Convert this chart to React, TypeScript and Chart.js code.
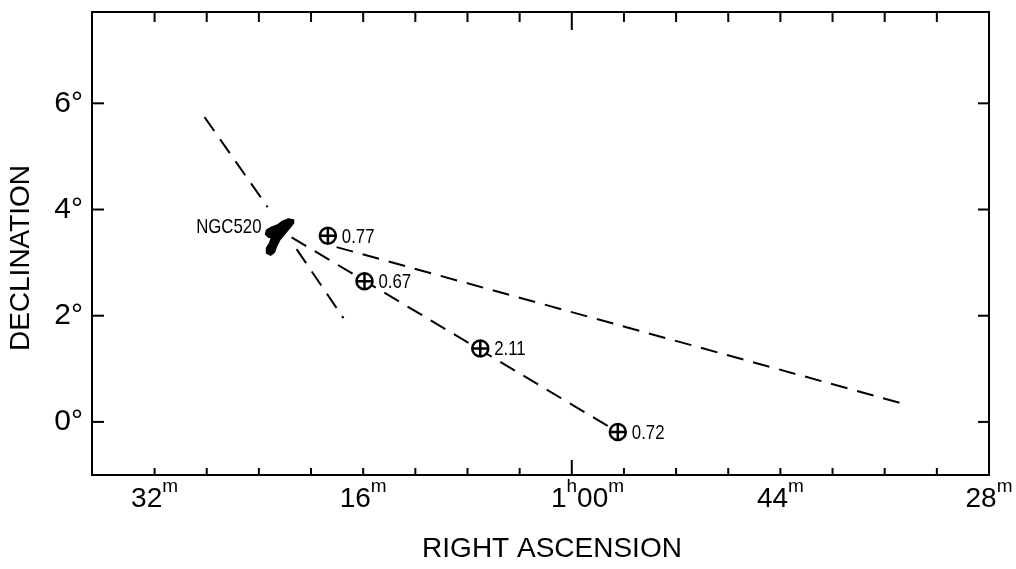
import React, { useEffect, useRef } from "react";
import { Chart, registerables } from "chart.js";

Chart.register(...registerables);

// Right ascension in minutes of time (1h32m = 92), declination in degrees
const xTickValues = [92, 88, 84, 80, 76, 72, 68, 64, 60, 56, 52, 48, 44, 40, 36, 32, 28];
const xLabelValues = [92, 76, 60, 44, 28];
const xLabelHours = ["", "", "1", "", ""];
const xLabelMinutes = ["32", "16", "00", "44", "28"];
const yTickValues = [0, 2, 4, 6];
const yTickLabels = ["0°", "2°", "4°", "6°"];

const sourceRA = [78.71, 75.9, 67.02, 56.47];
const sourceDec = [3.505, 2.65, 1.383, -0.19];
const sourceLabels = ["0.77", "0.67", "2.11", "0.72"];

const line1aRA = [88.17, 83.33];
const line1aDec = [5.74, 4.046];
const line1bRA = [81.11, 77.51];
const line1bDec = [3.254, 1.954];
const line2RA = [81.49, 56.47];
const line2Dec = [3.476, -0.19];
const line3RA = [78.04, 34.25];
const line3Dec = [3.292, 0.32];

const galaxyRA = [81.34, 81.72, 82.18, 82.57, 83.03, 83.41, 83.49, 83.26, 83.03, 83.18, 83.41, 83.41, 83.1, 82.8, 82.64, 82.41, 82.03, 81.65, 81.34];
const galaxyDec = [3.801, 3.82, 3.782, 3.707, 3.669, 3.612, 3.537, 3.48, 3.461, 3.367, 3.273, 3.179, 3.141, 3.198, 3.311, 3.424, 3.537, 3.65, 3.744];
const galaxyLabel = "NGC520";

const xTitle = "RIGHT ASCENSION";
const yTitle = "DECLINATION";

const FONT = "'Liberation Sans', Arial, 'DejaVu Sans', sans-serif";

const pts = (xs: number[], ys: number[]) => xs.map((x, i) => ({ x, y: ys[i] }));

const dashed = (xs: number[], ys: number[]) => ({
  data: pts(xs, ys),
  showLine: true,
  borderColor: "#000",
  borderWidth: 2,
  borderDash: [17, 10],
  pointRadius: 0,
  fill: false,
  order: 3,
});

const decorPlugin = {
  id: "decor",
  afterDatasetsDraw(chart: any) {
    const { ctx, scales } = chart;
    const x = scales.x;
    const y = scales.y;
    // galaxy blob
    ctx.save();
    ctx.beginPath();
    galaxyRA.forEach((ra, i) => {
      const px = x.getPixelForValue(ra);
      const py = y.getPixelForValue(galaxyDec[i]);
      if (i === 0) ctx.moveTo(px, py);
      else ctx.lineTo(px, py);
    });
    ctx.closePath();
    ctx.fillStyle = "#000";
    ctx.fill();
    ctx.lineWidth = 1.5;
    ctx.lineJoin = "round";
    ctx.strokeStyle = "#000";
    ctx.stroke();

    // narrow labels
    const narrow = (text: string, tx: number, ty: number, align: "left" | "right") => {
      ctx.save();
      ctx.font = `21px ${FONT}`;
      ctx.textBaseline = "middle";
      ctx.fillStyle = "#000";
      ctx.translate(tx, ty);
      ctx.scale(0.8, 1);
      ctx.textAlign = align;
      ctx.fillText(text, 0, 0);
      ctx.restore();
    };
    sourceRA.forEach((ra, i) => {
      const px = x.getPixelForValue(ra);
      const py = y.getPixelForValue(sourceDec[i]);
      narrow(sourceLabels[i], px + 14, py + 1, "left");
    });
    // galaxy label anchored at the blob's leftmost point
    let li = 0;
    galaxyRA.forEach((ra, i) => {
      if (ra > galaxyRA[li]) li = i;
    });
    narrow(galaxyLabel, x.getPixelForValue(galaxyRA[li]) - 4, y.getPixelForValue(galaxyDec[li]) - 7, "right");
    ctx.restore();
  },
  afterDraw(chart: any) {
    const { ctx, chartArea, scales } = chart;
    const { left, right, top, bottom } = chartArea;
    const x = scales.x;
    const y = scales.y;
    ctx.save();
    ctx.strokeStyle = "#000";
    ctx.lineWidth = 2;
    ctx.strokeRect(left, top, right - left, bottom - top);
    const seg = (x1: number, y1: number, x2: number, y2: number) => {
      ctx.beginPath();
      ctx.moveTo(x1, y1);
      ctx.lineTo(x2, y2);
      ctx.stroke();
    };
    xTickValues.forEach((v) => {
      const px = x.getPixelForValue(v);
      const long = v === 60;
      seg(px, bottom, px, bottom - (long ? 15 : 7));
      seg(px, top, px, top + (long ? 18 : 10));
    });
    yTickValues.forEach((v) => {
      const py = y.getPixelForValue(v);
      seg(left, py, left + 12, py);
      seg(right, py, right - 11, py);
    });

    // x tick labels with superscripts
    ctx.fillStyle = "#000";
    ctx.textBaseline = "alphabetic";
    ctx.textAlign = "left";
    const mainFont = `28px ${FONT}`;
    const supFont = `19px ${FONT}`;
    const baseY = 507;
    const supY = 492;
    xLabelValues.forEach((v, i) => {
      const px = x.getPixelForValue(v);
      const parts: { t: string; sup: boolean }[] = [];
      if (xLabelHours[i]) {
        parts.push({ t: xLabelHours[i], sup: false });
        parts.push({ t: "h", sup: true });
      }
      parts.push({ t: xLabelMinutes[i], sup: false });
      parts.push({ t: "m", sup: true });
      const widths = parts.map((p) => {
        ctx.font = p.sup ? supFont : mainFont;
        return ctx.measureText(p.t).width;
      });
      const total = widths.reduce((a, b) => a + b, 0);
      let start = px - total / 2;
      if (xLabelHours[i]) start = px - widths[0] - widths[1] / 2;
      let cx = start;
      parts.forEach((p, k) => {
        ctx.font = p.sup ? supFont : mainFont;
        ctx.fillText(p.t, cx, p.sup ? supY : baseY);
        cx += widths[k];
      });
    });

    // axis titles
    ctx.font = `28px ${FONT}`;
    ctx.textAlign = "center";
    ctx.textBaseline = "middle";
    ctx.fillText(xTitle, 552, 549);
    ctx.save();
    ctx.translate(21, 258);
    ctx.rotate(-Math.PI / 2);
    ctx.fillText(yTitle, 0, 0);
    ctx.restore();
    ctx.restore();
  },
};

export default function App() {
  const ref = useRef<HTMLCanvasElement | null>(null);
  useEffect(() => {
    document.body.style.margin = "0";
    const canvas = ref.current;
    if (!canvas) return;
    const chart = new Chart(canvas, {
      type: "scatter",
      data: {
        datasets: [
          {
            data: pts(sourceRA, sourceDec),
            pointStyle: "cross",
            pointRadius: 8,
            pointBorderWidth: 2.5,
            pointBorderColor: "#000",
            borderColor: "#000",
            showLine: false,
            order: 1,
          },
          {
            data: pts(sourceRA, sourceDec),
            pointStyle: "circle",
            pointRadius: 8,
            pointBorderWidth: 2.5,
            pointBackgroundColor: "#fff",
            pointBorderColor: "#000",
            showLine: false,
            order: 2,
          },
          dashed(line1aRA, line1aDec),
          dashed(line1bRA, line1bDec),
          dashed(line2RA, line2Dec),
          dashed(line3RA, line3Dec),
        ] as any,
      },
      options: {
        animation: false,
        responsive: false,
        devicePixelRatio: 1,
        layout: { padding: { top: 12, right: 27, left: 0, bottom: 0 } },
        plugins: { legend: { display: false }, tooltip: { enabled: false }, title: { display: false } },
        scales: {
          x: {
            type: "linear",
            reverse: true,
            min: 28,
            max: 96.8,
            grid: { display: false, drawTicks: false },
            border: { display: false },
            ticks: { display: false },
            afterFit: (s: any) => {
              s.height = 94;
              s.paddingLeft = 0;
              s.paddingRight = 0;
            },
          },
          y: {
            type: "linear",
            min: -1.0,
            max: 7.72,
            grid: { display: false, drawTicks: false },
            border: { display: false },
            afterBuildTicks: (s: any) => {
              s.ticks = yTickValues.map((v) => ({ value: v }));
            },
            ticks: {
              padding: 9,
              color: "#000",
              font: { size: 30, family: FONT },
              callback: (v: any) => yTickLabels[yTickValues.indexOf(Number(v))] ?? "",
            },
            afterFit: (s: any) => {
              s.width = 92;
              s.paddingTop = 0;
              s.paddingBottom = 0;
            },
          },
        },
      } as any,
      plugins: [decorPlugin],
    });
    return () => chart.destroy();
  }, []);
  return (
    <div style={{ width: 1016, height: 569, background: "#fff" }}>
      <canvas ref={ref} width={1016} height={569} style={{ display: "block" }} />
    </div>
  );
}
